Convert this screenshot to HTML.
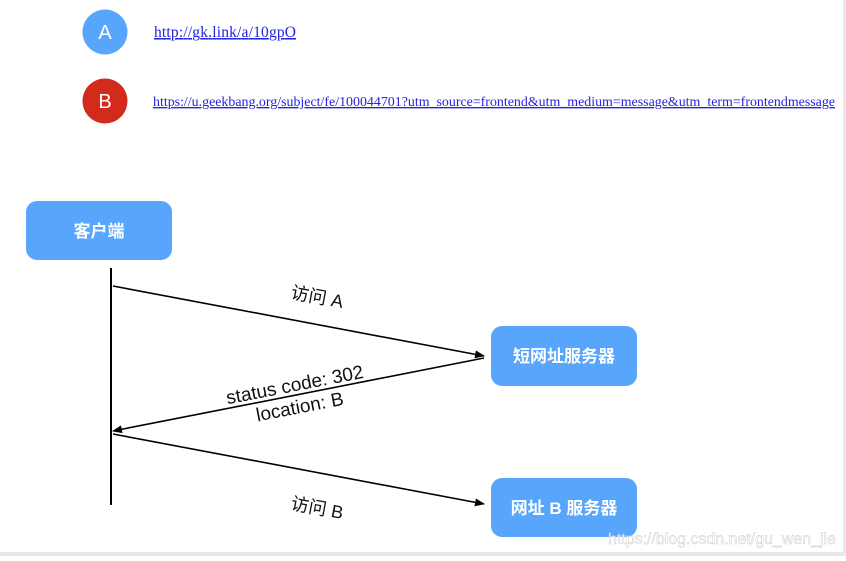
<!DOCTYPE html>
<html><head><meta charset="utf-8"><style>
body{margin:0;width:846px;height:556px;background:#fff;overflow:hidden}
</style></head><body>
<svg width="846" height="556" xmlns="http://www.w3.org/2000/svg" font-family="Liberation Sans, Noto Sans CJK SC, sans-serif">
<defs><marker id="ar" markerWidth="10" markerHeight="8" refX="9" refY="4" orient="auto" markerUnits="userSpaceOnUse"><path d="M0,0 L10,4 L0,8 z" fill="#000"/></marker></defs>
<rect x="843" y="0" width="3" height="556" fill="#e8e8e8"/>
<rect x="0" y="552" width="846" height="4" fill="#e8e8e8"/>
<circle cx="105" cy="32" r="22.5" fill="#58a5fc"/>
<text x="105" y="39" font-size="20" fill="#fff" text-anchor="middle">A</text>
<circle cx="105" cy="101" r="22.5" fill="#d22a1b"/>
<text x="105" y="108" font-size="20" fill="#fff" text-anchor="middle">B</text>
<text x="154" y="37" font-family="Liberation Serif, serif" font-size="15.5" fill="#2323e0" text-decoration="underline" textLength="142">http://gk.link/a/10gpO</text>
<text x="153" y="106" font-family="Liberation Serif, serif" font-size="13.5" fill="#2323e0" text-decoration="underline" textLength="682" lengthAdjust="spacingAndGlyphs">https://u.geekbang.org/subject/fe/100044701?utm_source=frontend&amp;utm_medium=message&amp;utm_term=frontendmessage</text>
<rect x="26" y="201" width="146" height="59" rx="11" fill="#58a5fc"/>
<text x="99" y="237" font-size="17" font-weight="bold" fill="#fff" text-anchor="middle">客户端</text>
<rect x="491" y="326" width="146" height="60" rx="11" fill="#58a5fc"/>
<text x="564" y="362" font-size="17" font-weight="bold" fill="#fff" text-anchor="middle">短网址服务器</text>
<rect x="491" y="478" width="146" height="59" rx="11" fill="#58a5fc"/>
<text x="564" y="514" font-size="17" font-weight="bold" fill="#fff" text-anchor="middle">网址 B 服务器</text>
<line x1="111" y1="268" x2="111" y2="505" stroke="#000" stroke-width="2"/>
<line x1="113" y1="286" x2="484" y2="356" stroke="#000" stroke-width="1.6" marker-end="url(#ar)"/>
<line x1="484" y1="358" x2="113" y2="431" stroke="#000" stroke-width="1.6" marker-end="url(#ar)"/>
<line x1="113" y1="434" x2="484" y2="504" stroke="#000" stroke-width="1.6" marker-end="url(#ar)"/>
<text transform="translate(316,303) rotate(10.7)" font-size="18" text-anchor="middle" fill="#111">访问 A</text>
<text transform="translate(296,391) rotate(-11)" font-size="19" text-anchor="middle" fill="#111">status code: 302</text>
<text transform="translate(301,413) rotate(-11)" font-size="19" text-anchor="middle" fill="#111">location: B</text>
<text transform="translate(316,514) rotate(10.7)" font-size="18" text-anchor="middle" fill="#111">访问 B</text>
<text x="608" y="544" font-size="16" fill="#fff" stroke="#bbb" stroke-width="0.4" opacity="0.9" textLength="228">https://blog.csdn.net/gu_wen_jie</text>
</svg>
</body></html>
